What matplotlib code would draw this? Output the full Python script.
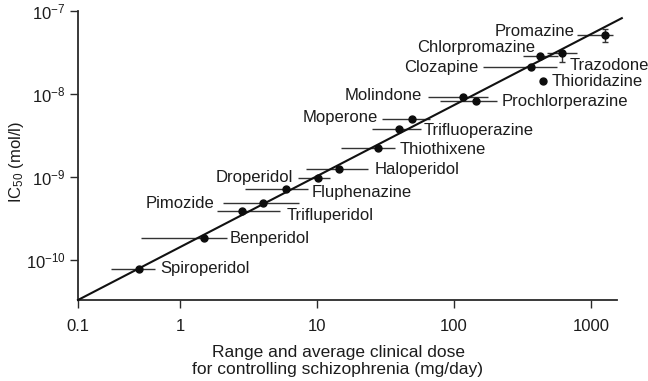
import numpy as np
import matplotlib
matplotlib.use("Agg")
import matplotlib.pyplot as plt

plt.rcParams["font.family"] = ["Liberation Sans", "DejaVu Sans"]
plt.rcParams["mathtext.fontset"] = "custom"
plt.rcParams["mathtext.rm"] = "Liberation Sans"
plt.rcParams["mathtext.it"] = "Liberation Sans:italic"
plt.rcParams["mathtext.bf"] = "Liberation Sans:bold"

# Antipsychotic drugs: clinical dose (mg/day) vs. IC50 for displacing [3H]-haloperidol
drugs = ["Spiroperidol", "Benperidol", "Trifluperidol", "Pimozide", "Fluphenazine",
         "Droperidol", "Haloperidol", "Thiothixene", "Trifluoperazine", "Moperone",
         "Molindone", "Prochlorperazine", "Clozapine", "Chlorpromazine", "Trazodone",
         "Thioridazine", "Promazine"]
dose_avg = [0.40, 1.5, 2.85, 4.0, 5.9, 10.2, 14.5, 28, 40, 49,
            116, 145, 365, 425, 615, 445, 1265]
dose_low = [0.21, 0.41, 1.85, 2.05, 3.0, 7.3, 8.3, 15, 25, 30,
            65, 79, 163, 320, 480, 445, 790]
dose_high = [0.57, 2.2, 5.4, 7.4, 8.6, 12.4, 23.5, 37, 57, 67,
             177, 205, 565, 575, 790, 445, 1450]
ic50 = [7.8e-11, 1.85e-10, 3.9e-10, 4.85e-10, 7.2e-10, 9.7e-10, 1.25e-9, 2.25e-9,
        3.8e-9, 5.0e-9, 9.2e-9, 8.2e-9, 2.1e-8, 2.85e-8, 3.1e-8, 1.43e-8, 5.15e-8]

# IC50 ranges where measured
ic50_range_drugs = ["Trazodone", "Promazine"]
ic50_range_low = [2.45e-8, 4.25e-8]
ic50_range_high = [3.1e-8, 6.05e-8]

# Regression line end points
fit_dose = [0.1, 1680]
fit_ic50 = [3.3e-11, 8.2e-8]

x_ticks = [0.1, 1, 10, 100, 1000]
x_tick_labels = ["0.1", "1", "10", "100", "1000"]
y_ticks = [1e-10, 1e-9, 1e-8, 1e-7]

# Label placement: side of the range bar and pixel offset
label_side = {
    "Spiroperidol": ("r", 5, 0), "Benperidol": ("r", 3, -1), "Trifluperidol": ("r", 6, -5),
    "Pimozide": ("l", -8, 0), "Fluphenazine": ("r", 4, -4), "Droperidol": ("l", -5, 1),
    "Haloperidol": ("r", 7, -1), "Thiothixene": ("r", 5, -2), "Trifluoperazine": ("r", 3, -2),
    "Moperone": ("l", -4, 1), "Molindone": ("l", -6, 2), "Prochlorperazine": ("r", 5, 0),
    "Clozapine": ("l", -5, 0), "Chlorpromazine": ("l", 12, 9), "Trazodone": ("r", -7, -12),
    "Thioridazine": ("r", 9, 0), "Promazine": ("l", -2, 3),
}

# The dose axis is logarithmic, with the sub-milligram decade drawn compressed
SUB_DECADE = 0.745


def fwd(x):
    x = np.asarray(x, dtype=float)
    with np.errstate(divide="ignore", invalid="ignore"):
        lx = np.log10(np.where(x > 0, x, 1e-300))
    return np.where(lx < 0, lx * SUB_DECADE, lx)


def inv(u):
    u = np.asarray(u, dtype=float)
    return np.where(u < 0, 10.0 ** (u / SUB_DECADE), 10.0 ** u)


ink = "#1c1c1c"
fig = plt.figure(figsize=(6.48, 3.81), dpi=100)
ax = fig.add_axes([78 / 648, 81 / 381, 539 / 648, 289 / 381])
ax.set_xscale("function", functions=(fwd, inv))
ax.set_yscale("log")
ax.set_xlim(0.1, 1549)
ax.set_ylim(3.3e-11, 1e-7)

for s in ("top", "right"):
    ax.spines[s].set_visible(False)
for s in ("left", "bottom"):
    ax.spines[s].set_linewidth(1.3)
    ax.spines[s].set_color("#2a2a2a")

ax.set_xticks(x_ticks, labels=x_tick_labels)
ax.set_yticks(y_ticks)
ax.minorticks_off()
ax.yaxis.set_minor_locator(matplotlib.ticker.NullLocator())
ax.tick_params(axis="both", direction="out", length=6, width=1.0, color="#2a2a2a",
               labelsize=12, labelcolor=ink)
ax.tick_params(axis="x", pad=8)
ax.tick_params(axis="y", pad=3)

# regression line
ax.plot(fit_dose, fit_ic50, color="#111111", lw=1.5, clip_on=False, zorder=3)

# dose ranges
dose_avg_a = np.array(dose_avg)
xerr = [dose_avg_a - np.array(dose_low), np.array(dose_high) - dose_avg_a]
ax.errorbar(dose_avg, ic50, xerr=xerr, fmt="none", ecolor="#333333",
            elinewidth=1.0, capsize=0, zorder=2)

# IC50 ranges
idx = [drugs.index(d) for d in ic50_range_drugs]
yd = np.array([ic50[i] for i in idx])
xd = [dose_avg[i] for i in idx]
yerr = [yd - np.array(ic50_range_low), np.array(ic50_range_high) - yd]
ax.errorbar(xd, yd, yerr=yerr, fmt="none", ecolor="#333333",
            elinewidth=1.0, capsize=2, capthick=1.0, zorder=2)

ax.plot(dose_avg, ic50, "o", color="#0d0d0d", ms=5, zorder=4, clip_on=False)

for name, x, lo, hi, y in zip(drugs, dose_avg, dose_low, dose_high, ic50):
    side, dx, dy = label_side[name]
    anchor_x = hi if side == "r" else lo
    ax.annotate(name, xy=(anchor_x, y), xytext=(dx, dy), textcoords="offset pixels",
                ha="left" if side == "r" else "right", va="center",
                fontsize=12, color=ink)

ax.set_xlabel("Range and average clinical dose\nfor controlling schizophrenia (mg/day)",
              fontsize=12.5, color=ink, linespacing=1.1)
ax.xaxis.label.set_verticalalignment("center")
ax.xaxis.set_label_coords((338 - 78) / 539, (300 - 361) / 289)

ax.set_ylabel(r"IC$_{\mathregular{50}}$ (mol/l)", fontsize=12, color=ink)
ax.yaxis.label.set_verticalalignment("center")
ax.yaxis.set_label_coords((17 - 78) / 539, (300 - 162) / 289)

fig.savefig("out.png", dpi=100, facecolor="white")
